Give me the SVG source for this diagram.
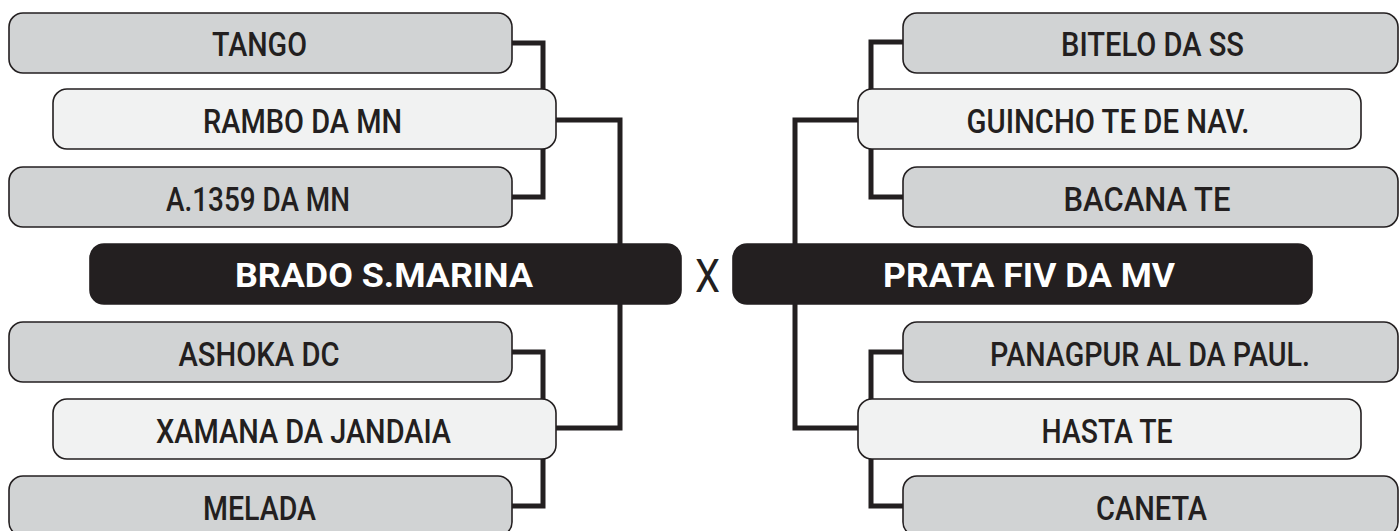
<svg xmlns="http://www.w3.org/2000/svg" width="1400" height="531" viewBox="0 0 1400 531">
<style>
.g{fill:#d1d3d4;stroke:#231f20;stroke-width:1.6}
.l{fill:#f1f2f2;stroke:#231f20;stroke-width:1.6}
.d{fill:#231f20;stroke:#231f20;stroke-width:1.6}
.t{font-family:Roboto,"Liberation Sans",sans-serif;font-size:34px;font-weight:500;fill:#231f20;text-anchor:middle}
.w{font-family:Roboto,"Liberation Sans",sans-serif;font-size:34px;font-weight:700;fill:#ffffff;text-anchor:middle}
.x{font-family:Roboto,"Liberation Sans",sans-serif;font-size:47px;font-weight:400;fill:#231f20;text-anchor:middle}
.c{fill:none;stroke:#231f20;stroke-width:5;stroke-linejoin:miter;stroke-linecap:butt}
</style>
<rect width="1400" height="531" fill="#ffffff"/>
<g id="connectors">
<path class="c" d="M512 43 H543 V90"/>
<path class="c" d="M543 149 V197 H512"/>
<path class="c" d="M556 120 H620 V245"/>
<path class="c" d="M512 352 H543 V400"/>
<path class="c" d="M543 458 V506 H512"/>
<path class="c" d="M620 303 V428 H556"/>
<path class="c" d="M903 42 H871 V90"/>
<path class="c" d="M871 149 V197 H903"/>
<path class="c" d="M858 120 H795 V245"/>
<path class="c" d="M903 352 H871 V400"/>
<path class="c" d="M871 458 V506 H903"/>
<path class="c" d="M795 303 V428 H858"/>
</g>
<g id="tango"><rect class="g" x="9" y="13" width="503" height="60" rx="14"/><text class="t" x="259.5" y="56" textLength="95" lengthAdjust="spacingAndGlyphs">TANGO</text></g>
<g id="rambo"><rect class="l" x="53" y="89" width="503" height="60" rx="14"/><text class="t" x="302.5" y="133" textLength="199" lengthAdjust="spacingAndGlyphs">RAMBO DA MN</text></g>
<g id="a1359"><rect class="g" x="9" y="167" width="503" height="60" rx="14"/><text class="t" x="258" y="211" textLength="184" lengthAdjust="spacingAndGlyphs">A.1359 DA MN</text></g>
<g id="brado"><rect class="d" x="90" y="244" width="591" height="60" rx="14"/><text class="w" x="384" y="287" textLength="298" lengthAdjust="spacingAndGlyphs">BRADO S.MARINA</text></g>
<g id="ashoka"><rect class="g" x="9" y="322" width="503" height="60" rx="14"/><text class="t" x="259" y="366" textLength="161" lengthAdjust="spacingAndGlyphs">ASHOKA DC</text></g>
<g id="xamana"><rect class="l" x="53" y="399" width="503" height="60" rx="14"/><text class="t" x="303.5" y="443" textLength="295" lengthAdjust="spacingAndGlyphs">XAMANA DA JANDAIA</text></g>
<g id="melada"><rect class="g" x="9" y="476" width="503" height="60" rx="14"/><text class="t" x="259.5" y="520" textLength="113" lengthAdjust="spacingAndGlyphs">MELADA</text></g>
<g id="vs"><text class="x" x="707.5" y="292" textLength="25" lengthAdjust="spacingAndGlyphs">X</text></g>
<g id="bitelo"><rect class="g" x="903" y="13" width="495" height="60" rx="14"/><text class="t" x="1152.5" y="56" textLength="183" lengthAdjust="spacingAndGlyphs">BITELO DA SS</text></g>
<g id="guincho"><rect class="l" x="858" y="89" width="503" height="60" rx="14"/><text class="t" x="1108" y="133" textLength="283" lengthAdjust="spacingAndGlyphs">GUINCHO TE DE NAV.</text></g>
<g id="bacana"><rect class="g" x="903" y="167" width="495" height="60" rx="14"/><text class="t" x="1147" y="211" textLength="167" lengthAdjust="spacingAndGlyphs">BACANA TE</text></g>
<g id="prata"><rect class="d" x="733" y="244" width="579" height="60" rx="14"/><text class="w" x="1029" y="287" textLength="292" lengthAdjust="spacingAndGlyphs">PRATA FIV DA MV</text></g>
<g id="panagpur"><rect class="g" x="903" y="322" width="495" height="60" rx="14"/><text class="t" x="1150" y="366" textLength="320" lengthAdjust="spacingAndGlyphs">PANAGPUR AL DA PAUL.</text></g>
<g id="hasta"><rect class="l" x="858" y="399" width="503" height="60" rx="14"/><text class="t" x="1107" y="443" textLength="131" lengthAdjust="spacingAndGlyphs">HASTA TE</text></g>
<g id="caneta"><rect class="g" x="903" y="476" width="495" height="60" rx="14"/><text class="t" x="1151.5" y="520" textLength="111" lengthAdjust="spacingAndGlyphs">CANETA</text></g>
</svg>
